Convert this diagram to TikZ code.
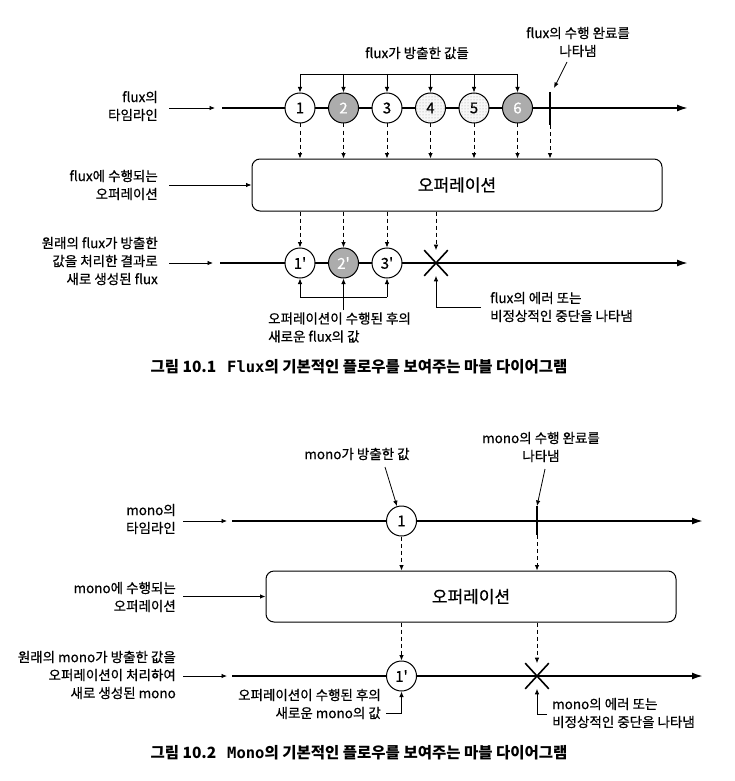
\documentclass[tikz,border=0pt]{standalone}
\usepackage{fontspec}
\setmainfont{Noto Sans CJK KR}
\newfontfamily\lblf{Noto Sans CJK KR}[FakeBold=0.6]
\newfontfamily\monob{DejaVu Sans Mono}
\usetikzlibrary{arrows.meta,shapes.misc,patterns}
\tikzset{
  lbl/.style={font=\lblf\fontsize{13.5}{18}\selectfont, inner sep=0pt},
  captxt/.style={font=\fontsize{15.5}{16}\selectfont\bfseries, inner sep=0pt},
  arr/.style={-{Latex[length=5.5pt,width=4.5pt]}, line width=0.8pt},
  darr/.style={arr, dash pattern=on 4pt off 3pt},
  tl/.style={line width=1.8pt, -{Latex[length=11pt,width=7pt]}},
  circ/.style={circle, draw, line width=1pt, minimum size=30pt, inner sep=0pt, fill=white, font=\lblf\fontsize{15}{15}\selectfont},
  darkc/.style={circ, fill=gray!65, text=white},
  lightc/.style={circ, preaction={fill=gray!6}, pattern=dots, pattern color=gray!75},
  opbox/.style={draw, rounded corners=8pt, line width=1pt, minimum width=410pt, minimum height=52pt, font=\lblf\fontsize{17}{17}\selectfont, fill=white},
  xmark/.style={cross out, draw, line width=1.6pt, minimum width=22pt, minimum height=24pt, inner sep=0pt},
  barl/.style={line width=2pt}
}
\begin{document}
\begin{tikzpicture}[x=1pt,y=-1pt]
\useasboundingbox[fill=white] (0,0) rectangle (735,781);
% ================= Diagram 1 =================
\coordinate (t1s) at (222,108); \coordinate (t1e) at (688,108);
\draw[tl] (t1s) -- (t1e);
\node[lbl, anchor=east, align=right] (lab1) at (158,106) {flux의\\타임라인};
\coordinate (i1s) at (169,108); \coordinate (i1e) at (215,108);
\draw[arr] (i1s) -- (i1e);
\node[circ] (c1) at (300,108) {1};
\node[darkc] (c2) at (343.5,108) {2};
\node[circ] (c3) at (387,108) {3};
\node[lightc] (c4) at (430.5,108) {4};
\node[lightc] (c5) at (474,108) {5};
\node[darkc] (c6) at (517.5,108) {6};
\coordinate (b1t) at (550,92); \coordinate (b1b) at (550,125);
\draw[barl] (b1t) -- (b1b);
% bracket above
\coordinate (br1l) at (300,74); \coordinate (br1r) at (517.5,74);
\draw[line width=0.8pt] (br1l) -- (br1r);
\foreach \c in {c1,c2,c3,c4,c5,c6} \draw[arr] (\c |- br1l) -- (\c.north);
\node[lbl] (vals1) at (417,53) {flux가 방출한 값들};
\node[lbl, align=center] (done1) at (578,42) {flux의 수행 완료를\\나타냄};
\coordinate (dn1a) at (567,62); \coordinate (dn1b) at (554,88);
\draw[arr] (dn1a) -- (dn1b);
% operation box
\node[opbox] (op1) at (457,185) {오퍼레이션};
\foreach \c in {c1,c2,c3,c4,c5,c6} \draw[darr] (\c.south) -- (\c |- op1.north);
\draw[darr] (b1b) -- (b1b |- op1.north);
\node[lbl, anchor=east, align=right] (lab2) at (158,185) {flux에 수행되는\\오퍼레이션};
\coordinate (i2s) at (169,185);
\draw[arr] (i2s) -- (op1.west);
% result timeline
\coordinate (t3s) at (220,263); \coordinate (t3e) at (688,263);
\draw[tl] (t3s) -- (t3e);
\node[lbl, anchor=east, align=right] (lab3) at (158,261) {원래의 flux가 방출한\\값을 처리한 결과로\\새로 생성된 flux};
\coordinate (i3s) at (169,263); \coordinate (i3e) at (213,263);
\draw[arr] (i3s) -- (i3e);
\node[circ] (d1) at (300,263) {1'};
\node[darkc] (d2) at (343.5,263) {2'};
\node[circ] (d3) at (387,263) {3'};
\node[xmark] (err1) at (436,263) {};
\foreach \c in {d1,d2,d3,err1} \draw[darr] (\c |- op1.south) -- (\c.north);
% bracket below
\coordinate (bb1l) at (300,297); \coordinate (bb1r) at (387,297);
\draw[line width=0.8pt] (bb1l) -- (bb1r);
\draw[arr] (d1 |- bb1l) -- (d1.south);
\draw[arr] (d3 |- bb1l) -- (d3.south);
\coordinate (bb1m) at (343.5,310);
\draw[arr] (bb1m) -- (d2.south);
\node[lbl, anchor=west, align=left] (nv1) at (268,327.5) {오퍼레이션이 수행된 후의\\새로운 flux의 값};
\node[lbl, anchor=west, align=left] (er1) at (490,307) {flux의 에러 또는\\비정상적인 중단을 나타냄};
\coordinate (er1c) at (481,307);
\draw[arr] (er1c) -| (err1.south);
\node[captxt] (cap1) at (359,367) {그림 10.1\hspace{0.7em}{\monob\bfseries Flux}의 기본적인 플로우를 보여주는 마블 다이어그램};
% ================= Diagram 2 =================
\coordinate (u1s) at (232,521); \coordinate (u1e) at (703,521);
\draw[tl] (u1s) -- (u1e);
\node[lbl, anchor=east, align=right] (lab4) at (176,519) {mono의\\타임라인};
\coordinate (i4s) at (183,521); \coordinate (i4e) at (227,521);
\draw[arr] (i4s) -- (i4e);
\node[circ] (m1) at (401.5,521) {1};
\coordinate (b2t) at (537,506); \coordinate (b2b) at (537,535);
\draw[barl] (b2t) -- (b2b);
\node[lbl] (vals2) at (357,454) {mono가 방출한 값};
\coordinate (va2) at (385,467);
\draw[arr] (va2) -- (m1);
\node[lbl, align=center] (done2) at (541,447) {mono의 수행 완료를\\나타냄};
\coordinate (dn2a) at (545,469);
\draw[arr] (dn2a) -- (b2t);
\node[opbox, minimum height=51pt] (op2) at (471,596.5) {오퍼레이션};
\draw[darr] (m1.south) -- (m1 |- op2.north);
\draw[darr] (b2b) -- (b2b |- op2.north);
\node[lbl, anchor=east, align=right] (lab5) at (176,597) {mono에 수행되는\\오퍼레이션};
\coordinate (i5s) at (183,596.5);
\draw[arr] (i5s) -- (op2.west);
\coordinate (v1s) at (232,676); \coordinate (v1e) at (703,676);
\draw[tl] (v1s) -- (v1e);
\node[lbl, anchor=east, align=right] (lab6) at (176,675) {원래의 mono가 방출한 값을\\오퍼레이션이 처리하여\\새로 생성된 mono};
\coordinate (i6s) at (183,676); \coordinate (i6e) at (227,676);
\draw[arr] (i6s) -- (i6e);
\node[circ] (n1) at (401.5,676) {1'};
\node[xmark] (err2) at (537,676) {};
\draw[darr] (n1 |- op2.south) -- (n1.north);
\draw[darr] (err2 |- op2.south) -- (err2.north);
\node[lbl, anchor=east, align=right] (nv2) at (381,704) {오퍼레이션이 수행된 후의\\새로운 mono의 값};
\coordinate (nv2c) at (386,713);
\draw[arr] (nv2c) -| (n1.south);
\node[lbl, anchor=west, align=left] (er2) at (552,713) {mono의 에러 또는\\비정상적인 중단을 나타냄};
\coordinate (er2c) at (547,714);
\draw[arr] (er2c) -| (err2.south);
\node[captxt] (cap2) at (359,753) {그림 10.2\hspace{0.7em}{\monob\bfseries Mono}의 기본적인 플로우를 보여주는 마블 다이어그램};
\end{tikzpicture}
\end{document}
